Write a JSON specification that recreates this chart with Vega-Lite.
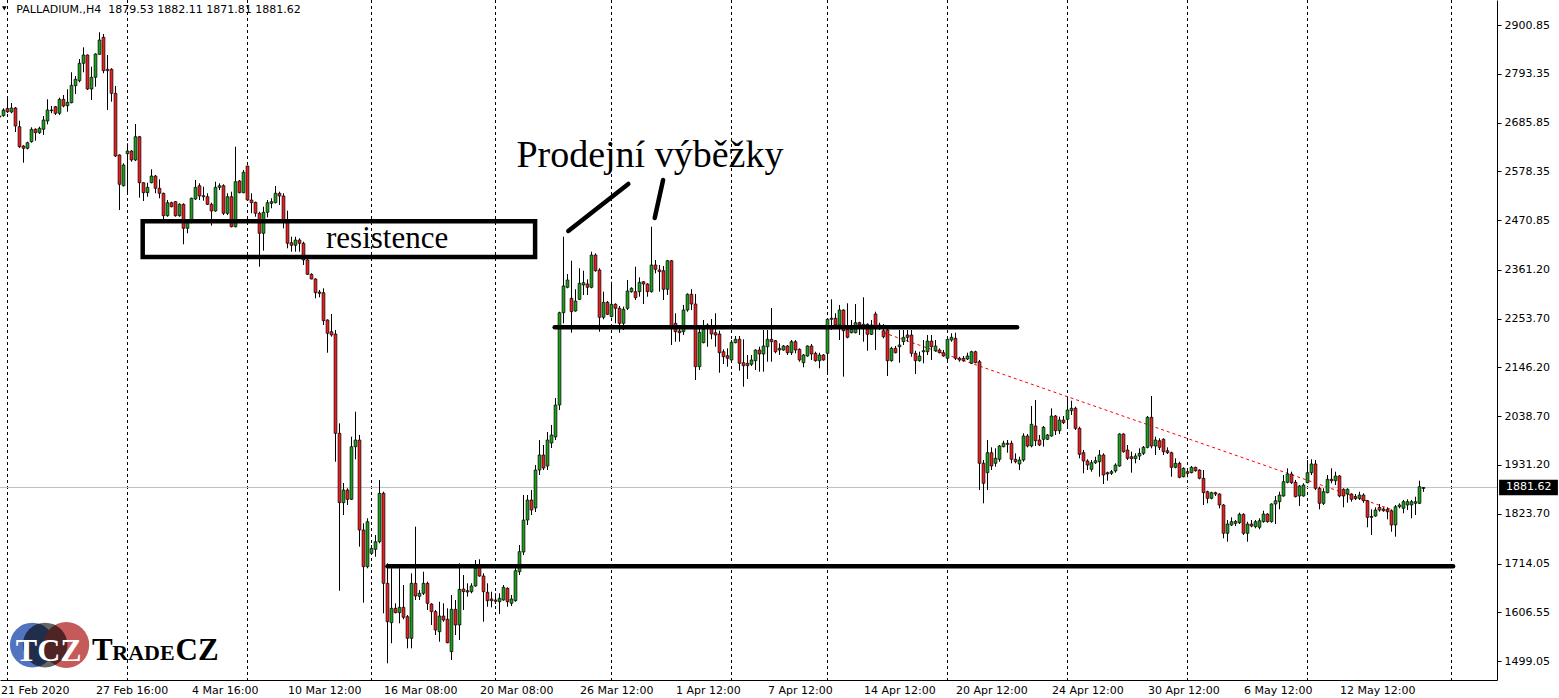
{
"$schema": "https://vega.github.io/schema/vega-lite/v6.json",
"width": 1497,
"height": 680,
"autosize": {"type": "none"},
"padding": {"left": 0, "top": 0, "right": 62, "bottom": 18},
"background": "white",
"config": {"view": {"stroke": null}, "font": "DejaVu Sans", "scale": {"continuousPadding": 0}, "axis": {"grid": false, "title": null, "domainColor": "black", "labelColor": "black", "labelFont": "DejaVu Sans", "labelFontSize": 11}},
"datasets": {
"c": [
{"i":0,"o":2700.3,"h":2707,"l":2691.5,"c":2698.1},
{"i":1,"o":2701,"h":2717.3,"l":2698.8,"c":2713.6},
{"i":2,"o":2717,"h":2737.8,"l":2707,"c":2709.8},
{"i":3,"o":2709.2,"h":2729,"l":2706.3,"c":2718},
{"i":4,"o":2718,"h":2720.2,"l":2665.1,"c":2678.3},
{"i":5,"o":2676.8,"h":2690,"l":2630,"c":2632.7},
{"i":6,"o":2634.2,"h":2636,"l":2597.4,"c":2629.1},
{"i":7,"o":2629.1,"h":2643.7,"l":2626.9,"c":2641.5},
{"i":8,"o":2643.7,"h":2675.4,"l":2641.5,"c":2671},
{"i":9,"o":2671,"h":2673.2,"l":2645.9,"c":2663.5},
{"i":10,"o":2663.5,"h":2676.8,"l":2661,"c":2673.2},
{"i":11,"o":2671,"h":2700.3,"l":2658.5,"c":2691.5},
{"i":12,"o":2689.3,"h":2737.1,"l":2682,"c":2713.6},
{"i":13,"o":2713.6,"h":2722.4,"l":2706.3,"c":2712},
{"i":14,"o":2720.8,"h":2722.4,"l":2702.5,"c":2706.3},
{"i":15,"o":2706.3,"h":2740.7,"l":2702.5,"c":2737.1},
{"i":16,"o":2737.1,"h":2746.6,"l":2719.5,"c":2722.4},
{"i":17,"o":2723,"h":2759.2,"l":2709.8,"c":2730.5},
{"i":18,"o":2729.7,"h":2796.7,"l":2728.3,"c":2768},
{"i":19,"o":2767.1,"h":2788.5,"l":2748.8,"c":2781.2},
{"i":20,"o":2778.1,"h":2826,"l":2774.6,"c":2816.5},
{"i":21,"o":2816.5,"h":2851.7,"l":2796.7,"c":2834.8},
{"i":22,"o":2834.8,"h":2836,"l":2757.6,"c":2759.8},
{"i":23,"o":2759.8,"h":2809,"l":2735.6,"c":2785.6},
{"i":24,"o":2785.6,"h":2838.5,"l":2764.9,"c":2837},
{"i":25,"o":2836.3,"h":2884.8,"l":2835.4,"c":2867.8},
{"i":26,"o":2873.8,"h":2881.1,"l":2794.4,"c":2800.2},
{"i":27,"o":2803.3,"h":2834.8,"l":2713.6,"c":2800.2},
{"i":28,"o":2803.3,"h":2805.5,"l":2731.9,"c":2750.4},
{"i":29,"o":2750.4,"h":2766.5,"l":2610,"c":2612.2},
{"i":30,"o":2614.4,"h":2615.9,"l":2493.2,"c":2549.8},
{"i":31,"o":2546.7,"h":2596.1,"l":2545,"c":2592.3},
{"i":32,"o":2617.3,"h":2640.2,"l":2530,"c":2623.2},
{"i":33,"o":2623.2,"h":2625,"l":2599.6,"c":2603.4},
{"i":34,"o":2603.4,"h":2682.7,"l":2601,"c":2654.7},
{"i":35,"o":2654.7,"h":2656.3,"l":2520.3,"c":2553.3},
{"i":36,"o":2553.3,"h":2554.2,"l":2513,"c":2531.3},
{"i":37,"o":2531.3,"h":2553.3,"l":2522.5,"c":2543.2},
{"i":38,"o":2553.3,"h":2582.9,"l":2552,"c":2568.1},
{"i":39,"o":2568.1,"h":2570.3,"l":2530,"c":2541},
{"i":40,"o":2541,"h":2560.8,"l":2519,"c":2530},
{"i":41,"o":2530,"h":2531.3,"l":2471.1,"c":2480.6},
{"i":42,"o":2480.6,"h":2515.2,"l":2478.4,"c":2509.3},
{"i":43,"o":2509.3,"h":2511.5,"l":2499.1,"c":2500.4},
{"i":44,"o":2511.5,"h":2513,"l":2478.4,"c":2480.6},
{"i":45,"o":2480.6,"h":2507.9,"l":2478.4,"c":2505.7},
{"i":46,"o":2505.7,"h":2507.9,"l":2417.6,"c":2452.8},
{"i":47,"o":2452.8,"h":2472.7,"l":2441.8,"c":2471.1},
{"i":48,"o":2471.1,"h":2520.3,"l":2463.9,"c":2519},
{"i":49,"o":2517.4,"h":2559.3,"l":2515.2,"c":2543.2},
{"i":50,"o":2546.7,"h":2552,"l":2515.2,"c":2524},
{"i":51,"o":2524.7,"h":2544.5,"l":2513.7,"c":2522.5},
{"i":52,"o":2522.5,"h":2530,"l":2504.2,"c":2505.7},
{"i":53,"o":2505.7,"h":2509.3,"l":2458.6,"c":2491},
{"i":54,"o":2491,"h":2555.5,"l":2489.4,"c":2543.2},
{"i":55,"o":2543.2,"h":2552,"l":2537.2,"c":2546.7},
{"i":56,"o":2546.7,"h":2549.8,"l":2482.1,"c":2485.9},
{"i":57,"o":2485.9,"h":2530,"l":2482.1,"c":2522.5},
{"i":58,"o":2522.5,"h":2533.5,"l":2455,"c":2456.3},
{"i":59,"o":2456.3,"h":2632.7,"l":2455,"c":2555.5},
{"i":60,"o":2557.1,"h":2559.3,"l":2530,"c":2531.3},
{"i":61,"o":2531.3,"h":2581.3,"l":2530,"c":2576.3},
{"i":62,"o":2590.1,"h":2590.8,"l":2513,"c":2515.2},
{"i":63,"o":2515.2,"h":2530,"l":2485.9,"c":2509.3},
{"i":64,"o":2510.1,"h":2511.5,"l":2478.4,"c":2485.9},
{"i":65,"o":2485.9,"h":2489.4,"l":2368.2,"c":2441.8},
{"i":66,"o":2441.8,"h":2500.4,"l":2403.5,"c":2488.1},
{"i":67,"o":2488.1,"h":2515.2,"l":2477,"c":2509.3},
{"i":68,"o":2507.9,"h":2519,"l":2497,"c":2511.5},
{"i":69,"o":2509.3,"h":2546,"l":2507.9,"c":2530},
{"i":70,"o":2530,"h":2533.5,"l":2504.2,"c":2524},
{"i":71,"o":2524,"h":2530,"l":2452.8,"c":2471.1},
{"i":72,"o":2471.1,"h":2491.6,"l":2408.7,"c":2419.8},
{"i":73,"o":2421.1,"h":2434.3,"l":2401.3,"c":2415.4},
{"i":74,"o":2415.4,"h":2434.3,"l":2401.3,"c":2427},
{"i":75,"o":2427,"h":2430.8,"l":2401.3,"c":2419.8},
{"i":76,"o":2419.8,"h":2423.3,"l":2372,"c":2383},
{"i":77,"o":2383,"h":2390.2,"l":2349.9,"c":2351.5},
{"i":78,"o":2351.5,"h":2353.6,"l":2340.4,"c":2341.1},
{"i":79,"o":2341.1,"h":2342.6,"l":2298.5,"c":2310.9},
{"i":80,"o":2312.4,"h":2316.8,"l":2300.7,"c":2309.5},
{"i":81,"o":2310.9,"h":2320.6,"l":2239.7,"c":2249.2},
{"i":82,"o":2250.7,"h":2252.3,"l":2178.6,"c":2221.4},
{"i":83,"o":2224.9,"h":2264,"l":2213.9,"c":2217.7},
{"i":84,"o":2219.9,"h":2228.7,"l":1938.4,"c":2001},
{"i":85,"o":2001,"h":2023,"l":1654.1,"c":1848.1},
{"i":86,"o":1848.1,"h":1891.5,"l":1820.9,"c":1876},
{"i":87,"o":1876,"h":1879.8,"l":1843,"c":1855.5},
{"i":88,"o":1855.5,"h":1993.5,"l":1854,"c":1971.5},
{"i":89,"o":1971.5,"h":2048.6,"l":1943.7,"c":1986.2},
{"i":90,"o":1986.2,"h":1997.3,"l":1751.1,"c":1787.9},
{"i":91,"o":1787.9,"h":1802.7,"l":1627.7,"c":1707},
{"i":92,"o":1707,"h":1813.7,"l":1703.5,"c":1806.2},
{"i":93,"o":1736.5,"h":1754.8,"l":1732.8,"c":1747.5},
{"i":94,"o":1745.3,"h":1776.9,"l":1729,"c":1762.1},
{"i":95,"o":1762.1,"h":1898.1,"l":1758.6,"c":1868.8},
{"i":96,"o":1868.8,"h":1872.3,"l":1604.3,"c":1670.4},
{"i":97,"o":1670.4,"h":1714.5,"l":1494.1,"c":1585.8},
{"i":98,"o":1583.6,"h":1703.5,"l":1538.2,"c":1615.3},
{"i":99,"o":1615.3,"h":1626.3,"l":1604.3,"c":1605.6},
{"i":100,"o":1605.6,"h":1703.5,"l":1582.3,"c":1617.5},
{"i":101,"o":1617.5,"h":1666.7,"l":1591.1,"c":1595.5},
{"i":102,"o":1596.8,"h":1600.5,"l":1527.1,"c":1549.2},
{"i":103,"o":1549.2,"h":1692.4,"l":1527.1,"c":1670.4},
{"i":104,"o":1670.4,"h":1795.2,"l":1633.6,"c":1642.4},
{"i":105,"o":1641.7,"h":1655.6,"l":1633.6,"c":1648.4},
{"i":106,"o":1648.4,"h":1696,"l":1644.6,"c":1670.4},
{"i":107,"o":1670.4,"h":1673.9,"l":1611.6,"c":1626.3},
{"i":108,"o":1624.8,"h":1626.3,"l":1578.5,"c":1607.9},
{"i":109,"o":1607.9,"h":1611.6,"l":1556.5,"c":1567.5},
{"i":110,"o":1563.7,"h":1629.8,"l":1541.7,"c":1598.3},
{"i":111,"o":1598.3,"h":1626.3,"l":1585.8,"c":1589.5},
{"i":112,"o":1591.1,"h":1615.3,"l":1538.2,"c":1539.5},
{"i":113,"o":1519.7,"h":1644.6,"l":1501.4,"c":1613.1},
{"i":114,"o":1613.1,"h":1633.6,"l":1556.5,"c":1578.5},
{"i":115,"o":1578.5,"h":1714.5,"l":1545.4,"c":1657.2},
{"i":116,"o":1657.8,"h":1688.7,"l":1611.6,"c":1651.9},
{"i":117,"o":1654.1,"h":1670.4,"l":1640.9,"c":1651.2},
{"i":118,"o":1651.9,"h":1670.4,"l":1648.4,"c":1664.5},
{"i":119,"o":1664.5,"h":1721.8,"l":1662.9,"c":1703.5},
{"i":120,"o":1707,"h":1723.3,"l":1684.9,"c":1686.5},
{"i":121,"o":1686.5,"h":1692.4,"l":1585.8,"c":1651.9},
{"i":122,"o":1650.6,"h":1670.4,"l":1618.8,"c":1632},
{"i":123,"o":1635.8,"h":1651.9,"l":1617.5,"c":1632},
{"i":124,"o":1633.6,"h":1648.4,"l":1624.8,"c":1630.8},
{"i":125,"o":1629.8,"h":1648.4,"l":1602.7,"c":1637.3},
{"i":126,"o":1633.6,"h":1666.7,"l":1632,"c":1661.6},
{"i":127,"o":1659.4,"h":1661.6,"l":1618.8,"c":1629.8},
{"i":128,"o":1626.3,"h":1644.6,"l":1620.4,"c":1635.8},
{"i":129,"o":1632,"h":1707,"l":1629.8,"c":1698.2},
{"i":130,"o":1696,"h":1754.8,"l":1688.7,"c":1740.1},
{"i":131,"o":1739.4,"h":1865,"l":1732.8,"c":1809.9},
{"i":132,"o":1809.9,"h":1865,"l":1798.9,"c":1854},
{"i":133,"o":1854,"h":1876,"l":1820.9,"c":1831.9},
{"i":134,"o":1836.4,"h":1931.1,"l":1827.6,"c":1920.1},
{"i":135,"o":1920.1,"h":1986.2,"l":1909.1,"c":1953.2},
{"i":136,"o":1953.2,"h":1975.2,"l":1920.1,"c":1924.5},
{"i":137,"o":1928.9,"h":2003.9,"l":1920.1,"c":1986.2},
{"i":138,"o":1979.6,"h":2019.3,"l":1968.6,"c":1997.3},
{"i":139,"o":1992.9,"h":2078.8,"l":1986.2,"c":2063.4},
{"i":140,"o":2063.4,"h":2269,"l":2052.4,"c":2266.8},
{"i":141,"o":2266.8,"h":2434.3,"l":2243.4,"c":2325.7},
{"i":142,"o":2322.8,"h":2352.1,"l":2320.6,"c":2338.9},
{"i":143,"o":2298.5,"h":2381.4,"l":2222.7,"c":2269},
{"i":144,"o":2270.6,"h":2318.4,"l":2269,"c":2292.6},
{"i":145,"o":2296.3,"h":2364.7,"l":2294.8,"c":2331.6},
{"i":146,"o":2327.9,"h":2359.4,"l":2305.8,"c":2332.9},
{"i":147,"o":2330.1,"h":2340.4,"l":2305.8,"c":2322.8},
{"i":148,"o":2322.8,"h":2401.3,"l":2320.6,"c":2394},
{"i":149,"o":2394,"h":2397.7,"l":2357.2,"c":2359.4},
{"i":150,"o":2360.9,"h":2364.7,"l":2224.9,"c":2256.7},
{"i":151,"o":2256.7,"h":2313.1,"l":2252.3,"c":2289.7},
{"i":152,"o":2289.7,"h":2292.6,"l":2261.7,"c":2263.3},
{"i":153,"o":2258,"h":2335.1,"l":2256.7,"c":2285.3},
{"i":154,"o":2285.3,"h":2287.5,"l":2243.4,"c":2276.5},
{"i":155,"o":2276.5,"h":2281.6,"l":2222.7,"c":2243.4},
{"i":156,"o":2243.4,"h":2280.2,"l":2228.7,"c":2274.3},
{"i":157,"o":2276.5,"h":2338.9,"l":2272.8,"c":2314.6},
{"i":158,"o":2313.1,"h":2322.8,"l":2310.9,"c":2320.6},
{"i":159,"o":2313.1,"h":2368.2,"l":2294.8,"c":2299.9},
{"i":160,"o":2313.1,"h":2344.8,"l":2302.1,"c":2333.8},
{"i":161,"o":2335.1,"h":2336.7,"l":2286,"c":2330.1},
{"i":162,"o":2330.1,"h":2331.6,"l":2302.1,"c":2313.1},
{"i":163,"o":2313.1,"h":2456.3,"l":2311,"c":2372},
{"i":164,"o":2372,"h":2383,"l":2353.6,"c":2362.4},
{"i":165,"o":2360.9,"h":2372,"l":2313.1,"c":2357.2},
{"i":166,"o":2359.4,"h":2369.7,"l":2294.8,"c":2318.4},
{"i":167,"o":2318.4,"h":2383,"l":2305.8,"c":2381.4},
{"i":168,"o":2381.4,"h":2383,"l":2195.6,"c":2232.4},
{"i":169,"o":2243.4,"h":2265.5,"l":2202.9,"c":2224.9},
{"i":170,"o":2226.5,"h":2239.7,"l":2202.9,"c":2222.7},
{"i":171,"o":2224.9,"h":2283.8,"l":2217.7,"c":2272.8},
{"i":172,"o":2272.8,"h":2309.5,"l":2269,"c":2307.4},
{"i":173,"o":2307.4,"h":2318.4,"l":2272.8,"c":2286},
{"i":174,"o":2286,"h":2308,"l":2118.5,"c":2147.8},
{"i":175,"o":2147.8,"h":2236,"l":2140.5,"c":2223.6},
{"i":176,"o":2200.7,"h":2250.7,"l":2199.4,"c":2230.2},
{"i":177,"o":2234.6,"h":2243.4,"l":2191.8,"c":2239.7},
{"i":178,"o":2232.4,"h":2252.9,"l":2208.2,"c":2219.9},
{"i":179,"o":2222.7,"h":2265.5,"l":2191.8,"c":2217.7},
{"i":180,"o":2219.9,"h":2227.1,"l":2134.6,"c":2178.6},
{"i":181,"o":2180.8,"h":2186.1,"l":2153.7,"c":2169.8},
{"i":182,"o":2172,"h":2188.3,"l":2147.8,"c":2166.3},
{"i":183,"o":2162.6,"h":2206.6,"l":2158.8,"c":2201.6},
{"i":184,"o":2200.7,"h":2215.5,"l":2199.4,"c":2208.2},
{"i":185,"o":2208.2,"h":2215.5,"l":2139,"c":2155.3},
{"i":186,"o":2156.6,"h":2208.2,"l":2103.7,"c":2150},
{"i":187,"o":2155.3,"h":2173.6,"l":2120.7,"c":2150},
{"i":188,"o":2153.1,"h":2173.6,"l":2149.3,"c":2162.6},
{"i":189,"o":2161,"h":2186.1,"l":2140.5,"c":2184.6},
{"i":190,"o":2184.6,"h":2191.8,"l":2136.8,"c":2175.8},
{"i":191,"o":2175.8,"h":2228.7,"l":2136.8,"c":2193.4},
{"i":192,"o":2191.8,"h":2228.7,"l":2158.8,"c":2208.2},
{"i":193,"o":2208.2,"h":2277.2,"l":2158.8,"c":2202.9},
{"i":194,"o":2205.1,"h":2206.6,"l":2177.3,"c":2180.8},
{"i":195,"o":2188.3,"h":2199.4,"l":2173.6,"c":2184.6},
{"i":196,"o":2184.6,"h":2195.6,"l":2183,"c":2193.4},
{"i":197,"o":2193.4,"h":2195.6,"l":2173.6,"c":2178.6},
{"i":198,"o":2178.6,"h":2206.6,"l":2173.6,"c":2202.9},
{"i":199,"o":2202.9,"h":2206.6,"l":2177.3,"c":2184.6},
{"i":200,"o":2186.1,"h":2188.3,"l":2158.8,"c":2162.6},
{"i":201,"o":2156.6,"h":2175.8,"l":2146.5,"c":2173.6},
{"i":202,"o":2171.4,"h":2194.9,"l":2169.8,"c":2193.4},
{"i":203,"o":2193.4,"h":2197.8,"l":2162.6,"c":2175.8},
{"i":204,"o":2177.3,"h":2180.8,"l":2158.8,"c":2161},
{"i":205,"o":2161,"h":2178.6,"l":2144.3,"c":2173.6},
{"i":206,"o":2173.6,"h":2175.8,"l":2161,"c":2162.6},
{"i":207,"o":2177.3,"h":2254.5,"l":2133.2,"c":2252.3},
{"i":208,"o":2252.3,"h":2296.3,"l":2228.7,"c":2254.5},
{"i":209,"o":2254.5,"h":2265.5,"l":2232.4,"c":2239.7},
{"i":210,"o":2239.7,"h":2283.8,"l":2206.6,"c":2272.8},
{"i":211,"o":2272.8,"h":2274.3,"l":2125.8,"c":2227.1},
{"i":212,"o":2230.2,"h":2287.5,"l":2210.4,"c":2212.6},
{"i":213,"o":2222.7,"h":2250.7,"l":2221.4,"c":2230.2},
{"i":214,"o":2222.7,"h":2286,"l":2221.4,"c":2244.8},
{"i":215,"o":2244.8,"h":2246.9,"l":2217.7,"c":2239.7},
{"i":216,"o":2241.2,"h":2300.7,"l":2202.9,"c":2237.5},
{"i":217,"o":2241.2,"h":2243.4,"l":2183,"c":2219.2},
{"i":218,"o":2219.2,"h":2250.7,"l":2217.7,"c":2239.7},
{"i":219,"o":2264,"h":2269,"l":2184.6,"c":2238.2},
{"i":220,"o":2239.7,"h":2244.8,"l":2228.7,"c":2236},
{"i":221,"o":2227.1,"h":2241.9,"l":2210.4,"c":2213.9},
{"i":222,"o":2228.7,"h":2232.4,"l":2127.3,"c":2161},
{"i":223,"o":2161,"h":2191.8,"l":2158.8,"c":2188.3},
{"i":224,"o":2188.3,"h":2193.4,"l":2177.3,"c":2178.6},
{"i":225,"o":2191.8,"h":2228.7,"l":2156.6,"c":2195.6},
{"i":226,"o":2202.9,"h":2228.7,"l":2195.6,"c":2212.6},
{"i":227,"o":2217.7,"h":2228.7,"l":2202.9,"c":2212.6},
{"i":228,"o":2217.7,"h":2228.7,"l":2169.8,"c":2177.3},
{"i":229,"o":2177.3,"h":2183,"l":2131.7,"c":2161},
{"i":230,"o":2161,"h":2180.8,"l":2158.8,"c":2171.4},
{"i":231,"o":2180.8,"h":2206.6,"l":2155.3,"c":2183},
{"i":232,"o":2180.8,"h":2217.7,"l":2173.6,"c":2204.4},
{"i":233,"o":2204.4,"h":2217.7,"l":2162.6,"c":2191.8},
{"i":234,"o":2183,"h":2206.6,"l":2180.8,"c":2193.4},
{"i":235,"o":2184.6,"h":2188.3,"l":2177.3,"c":2178.6},
{"i":236,"o":2178.6,"h":2184.6,"l":2169.8,"c":2171.4},
{"i":237,"o":2166.3,"h":2215.5,"l":2162.6,"c":2208.2},
{"i":238,"o":2206.6,"h":2221.4,"l":2202.9,"c":2212.6},
{"i":239,"o":2210.4,"h":2222.7,"l":2162.6,"c":2166.3},
{"i":240,"o":2166.3,"h":2169.8,"l":2158.8,"c":2162.6},
{"i":241,"o":2166.3,"h":2171.4,"l":2158.8,"c":2161},
{"i":242,"o":2164.8,"h":2178.6,"l":2162.6,"c":2171.4},
{"i":243,"o":2155.3,"h":2183,"l":2153.7,"c":2180.8},
{"i":244,"o":2180.8,"h":2183,"l":2155.3,"c":2156.6},
{"i":245,"o":2158.8,"h":2162.6,"l":1876,"c":1934.9},
{"i":246,"o":1934.9,"h":1942.2,"l":1846.7,"c":1890.8},
{"i":247,"o":1914.2,"h":1986.2,"l":1876,"c":1958.3},
{"i":248,"o":1958.3,"h":1970.1,"l":1920.1,"c":1928.9},
{"i":249,"o":1934.9,"h":1967.9,"l":1927.4,"c":1945.9},
{"i":250,"o":1943.7,"h":1975.2,"l":1938.4,"c":1973},
{"i":251,"o":1971.5,"h":1984.7,"l":1970.1,"c":1979},
{"i":252,"o":1979,"h":1986.2,"l":1958.3,"c":1976.7},
{"i":253,"o":1979,"h":1984.7,"l":1934.9,"c":1943.7},
{"i":254,"o":1943.7,"h":1956.9,"l":1934.9,"c":1938.4},
{"i":255,"o":1933.4,"h":1949.4,"l":1920.1,"c":1942.2},
{"i":256,"o":1942.2,"h":2001,"l":1938.4,"c":1995.1},
{"i":257,"o":1995.1,"h":1999.5,"l":1970.1,"c":1973},
{"i":258,"o":1973,"h":2061.2,"l":1970.1,"c":2020.9},
{"i":259,"o":2017.1,"h":2074.4,"l":1973,"c":1984.7},
{"i":260,"o":1986.2,"h":1997.3,"l":1973,"c":1975.2},
{"i":261,"o":1987.8,"h":2017.1,"l":1971.5,"c":2014.2},
{"i":262,"o":1987.8,"h":1999.5,"l":1986.2,"c":1997.3},
{"i":263,"o":1995.1,"h":2056.1,"l":1993.5,"c":2039.1},
{"i":264,"o":2039.1,"h":2041.3,"l":1997.3,"c":2006.7},
{"i":265,"o":2006.7,"h":2037.6,"l":1999.5,"c":2030.3},
{"i":266,"o":2030.3,"h":2039.1,"l":2021.5,"c":2024.4},
{"i":267,"o":2031.9,"h":2080.3,"l":2015.6,"c":2052.3},
{"i":268,"o":2050.9,"h":2072.8,"l":2041.3,"c":2056.1},
{"i":269,"o":2056.1,"h":2059.6,"l":2008.3,"c":2012},
{"i":270,"o":2012,"h":2015.6,"l":1945.9,"c":1954.7},
{"i":271,"o":1958.3,"h":1964.2,"l":1912.8,"c":1940},
{"i":272,"o":1940,"h":1943.7,"l":1920.1,"c":1931.1},
{"i":273,"o":1921.6,"h":1942.2,"l":1916.4,"c":1936.2},
{"i":274,"o":1936.2,"h":1949.4,"l":1933.4,"c":1940.6},
{"i":275,"o":1938.4,"h":1964.2,"l":1905.3,"c":1953.2},
{"i":276,"o":1953.2,"h":1956.9,"l":1889.3,"c":1909.1},
{"i":277,"o":1914.2,"h":1916.4,"l":1896.5,"c":1911.3},
{"i":278,"o":1912.8,"h":1920.1,"l":1909.1,"c":1916.4},
{"i":279,"o":1917.9,"h":1934.9,"l":1914.2,"c":1931.1},
{"i":280,"o":1928.9,"h":2001,"l":1927.4,"c":1999.5},
{"i":281,"o":1999.5,"h":2001,"l":1958.3,"c":1960.5},
{"i":282,"o":1964.2,"h":1975.2,"l":1942.2,"c":1945.9},
{"i":283,"o":1949.4,"h":1960.5,"l":1914.2,"c":1945},
{"i":284,"o":1945,"h":1956.9,"l":1934.9,"c":1950.9},
{"i":285,"o":1950.9,"h":1967.9,"l":1942.2,"c":1956.9},
{"i":286,"o":1956.9,"h":1973,"l":1953.2,"c":1970.1},
{"i":287,"o":1970.1,"h":2039.1,"l":1967.9,"c":2036.3},
{"i":288,"o":2036.3,"h":2083.2,"l":1967.9,"c":1973},
{"i":289,"o":1973,"h":1993.5,"l":1953.2,"c":1986.2},
{"i":290,"o":1984.7,"h":1990,"l":1964.2,"c":1970.1},
{"i":291,"o":1987.8,"h":1990,"l":1953.2,"c":1960.5},
{"i":292,"o":1962.7,"h":1970.1,"l":1955.4,"c":1958.3},
{"i":293,"o":1958.3,"h":1960.5,"l":1905.3,"c":1926},
{"i":294,"o":1926,"h":1945.9,"l":1923.8,"c":1934.9},
{"i":295,"o":1934.9,"h":1938.4,"l":1902,"c":1904},
{"i":296,"o":1905.3,"h":1926,"l":1904,"c":1923.8},
{"i":297,"o":1916.4,"h":1923.8,"l":1904,"c":1912.8},
{"i":298,"o":1914.2,"h":1928.9,"l":1912.8,"c":1926},
{"i":299,"o":1926,"h":1927.4,"l":1916.4,"c":1918.6},
{"i":300,"o":1920.1,"h":1921.6,"l":1899.6,"c":1901.8},
{"i":301,"o":1901.8,"h":1920.1,"l":1843,"c":1870.1},
{"i":302,"o":1872.3,"h":1874.5,"l":1846.7,"c":1857.7},
{"i":303,"o":1857.7,"h":1872.3,"l":1855.5,"c":1870.1},
{"i":304,"o":1870.1,"h":1872.3,"l":1862.8,"c":1867.2},
{"i":305,"o":1867.2,"h":1868.8,"l":1835.7,"c":1843},
{"i":306,"o":1843,"h":1845.2,"l":1769.6,"c":1780.6},
{"i":307,"o":1780.6,"h":1809.9,"l":1762.1,"c":1801.1},
{"i":308,"o":1798.9,"h":1815.8,"l":1796.7,"c":1806.2},
{"i":309,"o":1802.6,"h":1809.9,"l":1796.7,"c":1806.8},
{"i":310,"o":1804,"h":1826,"l":1801.1,"c":1822.5},
{"i":311,"o":1822.5,"h":1824.7,"l":1776.9,"c":1780.6},
{"i":312,"o":1780.6,"h":1806.2,"l":1762.1,"c":1801.1},
{"i":313,"o":1801.1,"h":1809.9,"l":1793.9,"c":1796.7},
{"i":314,"o":1795.2,"h":1809.9,"l":1791.7,"c":1806.2},
{"i":315,"o":1793.9,"h":1813.7,"l":1789.5,"c":1808.4},
{"i":316,"o":1806.2,"h":1830.4,"l":1804,"c":1823.1},
{"i":317,"o":1823.1,"h":1824.7,"l":1804,"c":1806.2},
{"i":318,"o":1806.2,"h":1846.7,"l":1804,"c":1845.2},
{"i":319,"o":1845.2,"h":1862.8,"l":1801.1,"c":1852.4},
{"i":320,"o":1850.2,"h":1872.3,"l":1833.5,"c":1865},
{"i":321,"o":1862.8,"h":1909.1,"l":1861.3,"c":1894.3},
{"i":322,"o":1893,"h":1923.8,"l":1890.8,"c":1911.3},
{"i":323,"o":1911.3,"h":1916.4,"l":1889.3,"c":1892.2},
{"i":324,"o":1893,"h":1898.1,"l":1859.9,"c":1861.3},
{"i":325,"o":1862.8,"h":1887.1,"l":1840.8,"c":1884.9},
{"i":326,"o":1862.8,"h":1890.8,"l":1861.3,"c":1887.1},
{"i":327,"o":1892.2,"h":1942.2,"l":1890.8,"c":1914.2},
{"i":328,"o":1914.2,"h":1943.7,"l":1909.1,"c":1933.4},
{"i":329,"o":1933.4,"h":1942.2,"l":1876,"c":1879.8},
{"i":330,"o":1879.8,"h":1883.3,"l":1833.5,"c":1846.7},
{"i":331,"o":1846.7,"h":1879.8,"l":1843,"c":1872.3},
{"i":332,"o":1870.1,"h":1909.1,"l":1868.8,"c":1899.6},
{"i":333,"o":1899.6,"h":1923.8,"l":1890.8,"c":1896.5},
{"i":334,"o":1896.5,"h":1916.4,"l":1887.1,"c":1906.9},
{"i":335,"o":1906.9,"h":1909.1,"l":1859.9,"c":1862.8},
{"i":336,"o":1877.6,"h":1879.8,"l":1837.9,"c":1862.8},
{"i":337,"o":1867.2,"h":1879.8,"l":1848.1,"c":1877.6},
{"i":338,"o":1867.2,"h":1868.8,"l":1850.3,"c":1855.5},
{"i":339,"o":1861.3,"h":1867.2,"l":1854,"c":1856.9},
{"i":340,"o":1857.7,"h":1872.3,"l":1854,"c":1865},
{"i":341,"o":1865,"h":1868.8,"l":1848.1,"c":1852.4},
{"i":342,"o":1852.4,"h":1854,"l":1793.9,"c":1815.8},
{"i":343,"o":1817.9,"h":1833.5,"l":1776.9,"c":1815.8},
{"i":344,"o":1818.7,"h":1837.9,"l":1817.2,"c":1831.9},
{"i":345,"o":1837.9,"h":1845.2,"l":1828.2,"c":1831.9},
{"i":346,"o":1834.1,"h":1837.9,"l":1828.2,"c":1830.4},
{"i":347,"o":1833.5,"h":1837.9,"l":1811.4,"c":1828.2},
{"i":348,"o":1830.4,"h":1833.5,"l":1784.1,"c":1798.9},
{"i":349,"o":1798.9,"h":1843,"l":1773.1,"c":1839.2},
{"i":350,"o":1839.2,"h":1846.7,"l":1835.7,"c":1843},
{"i":351,"o":1835.7,"h":1854,"l":1824.7,"c":1850.3},
{"i":352,"o":1843,"h":1855.5,"l":1831.9,"c":1850.3},
{"i":353,"o":1843,"h":1854,"l":1813.7,"c":1850.3},
{"i":354,"o":1846.7,"h":1861.3,"l":1820.9,"c":1850.3},
{"i":355,"o":1846.7,"h":1896.5,"l":1845.2,"c":1883.3},
{"i":356,"o":1879.53,"h":1882.11,"l":1871.81,"c":1881.62}
],
"grid": [{"i":2},{"i":32},{"i":62},{"i":93},{"i":124},{"i":153},{"i":183},{"i":207},{"i":237},{"i":267},{"i":297},{"i":327},{"i":363}],
"segs": [
{"a":142.2,"p":2446.9,"b":157.2,"q":2550.5},
{"a":163.8,"p":2475.5,"b":165.9,"q":2559.3},
{"a":138.8,"p":2234.9,"b":254.4,"q":2234.9},
{"a":97,"p":1707.9,"b":363.4,"q":1707.9}
]
},
"layer": [
{
"data": {"name": "grid"},
"mark": {"type": "rule", "stroke": "black", "strokeDash": [3, 3], "strokeWidth": 1},
"encoding": {
"x": {"field": "i", "type": "quantitative", "scale": {"domain": [0.125, 374.375], "nice": false, "zero": false, "padding": 0},
"axis": {"orient": "bottom", "title": null, "grid": false, "ticks": false, "domain": true, "domainColor": "black", "domainWidth": 1,
"values": [0.25, 24, 48, 72, 96, 120, 145, 169, 192, 216, 239, 263, 287, 311, 335],
"labelExpr": "['21 Feb 2020','27 Feb 16:00','4 Mar 16:00','10 Mar 12:00','16 Mar 08:00','20 Mar 08:00','26 Mar 12:00','1 Apr 12:00','7 Apr 12:00','14 Apr 12:00','20 Apr 12:00','24 Apr 12:00','30 Apr 12:00','6 May 12:00','12 May 12:00'][indexof([0.25,24,48,72,96,120,145,169,192,216,239,263,287,311,335], datum.value)]",
"labelAlign": "left", "labelBaseline": "top", "labelPadding": 4, "labelFont": "DejaVu Sans", "labelFontSize": 11, "labelColor": "black", "labelFlush": false, "labelOverlap": false, "labelBound": false}}
}
},
{
"data": {"values": [{"p": 1881.62}]},
"mark": {"type": "rule", "stroke": "#c0c0c0", "strokeWidth": 1},
"encoding": {
"y": {"field": "p", "type": "quantitative", "scale": {"domain": [1457.3, 2956], "nice": false, "zero": false, "padding": 0},
"axis": {"orient": "right", "title": null, "grid": false, "ticks": true, "tickSize": 4, "tickColor": "black", "tickWidth": 1, "domain": true, "domainColor": "black", "domainWidth": 1,
"values": [1499.05, 1606.55, 1714.05, 1823.70, 1931.20, 2038.70, 2146.20, 2253.70, 2361.20, 2470.85, 2578.35, 2685.85, 2793.35, 2900.85],
"format": ".2f", "labelPadding": 3, "labelFont": "DejaVu Sans", "labelFontSize": 11, "labelColor": "black", "labelOverlap": false, "labelFlush": false, "labelBound": false}}
}
},
{
"data": {"values": [{"a": 221, "p": 2222.8, "b": 347.7, "q": 1834}]},
"mark": {"type": "rule", "stroke": "#ff0000", "strokeWidth": 1, "strokeDash": [3, 3]},
"encoding": {
"x": {"field": "a", "type": "quantitative"},
"y": {"field": "p", "type": "quantitative"},
"x2": {"field": "b"},
"y2": {"field": "q"}
}
},
{
"data": {"name": "c"},
"mark": {"type": "rule", "stroke": "black", "strokeWidth": 1},
"encoding": {
"x": {"field": "i", "type": "quantitative"},
"y": {"field": "l", "type": "quantitative"},
"y2": {"field": "h"}
}
},
{
"data": {"name": "c"},
"mark": {"type": "bar", "size": 2.8, "stroke": "black", "strokeWidth": 0.7},
"encoding": {
"x": {"field": "i", "type": "quantitative"},
"y": {"field": "o", "type": "quantitative"},
"y2": {"field": "c"},
"fill": {"condition": {"test": "datum.c >= datum.o", "value": "#18a018"}, "value": "#f01c1c"}
}
},
{
"data": {"values": [{"a": 35.8, "p": 2468.3, "b": 133.9, "q": 2389.6}]},
"mark": {"type": "rect", "fill": null, "fillOpacity": 0, "stroke": "black", "strokeWidth": 4.5},
"encoding": {
"x": {"field": "a", "type": "quantitative"},
"y": {"field": "p", "type": "quantitative"},
"x2": {"field": "b"},
"y2": {"field": "q"}
}
},
{
"data": {"name": "segs"},
"mark": {"type": "rule", "stroke": "black", "strokeWidth": 4.5, "strokeCap": "round"},
"encoding": {
"x": {"field": "a", "type": "quantitative"},
"y": {"field": "p", "type": "quantitative"},
"x2": {"field": "b"},
"y2": {"field": "q"}
}
},
{
"data": {"values": [{"i": 96.9, "p": 2408.7, "t": "resistence"}]},
"mark": {"type": "text", "font": "Liberation Serif", "fontSize": 31, "align": "center", "baseline": "alphabetic", "color": "black"},
"encoding": {
"x": {"field": "i", "type": "quantitative"},
"y": {"field": "p", "type": "quantitative"},
"text": {"field": "t"}
}
},
{
"data": {"values": [{"i": 162.6, "p": 2587.9, "t": "Prodejní výběžky"}]},
"mark": {"type": "text", "font": "Liberation Serif", "fontSize": 38, "align": "center", "baseline": "alphabetic", "color": "black"},
"encoding": {
"x": {"field": "i", "type": "quantitative"},
"y": {"field": "p", "type": "quantitative"},
"text": {"field": "t"}
}
},
{
"data": {"values": [{"i": 1.2, "p": 2937.6}]},
"mark": {"type": "point", "shape": "triangle-down", "size": 22, "filled": true, "color": "black", "opacity": 1},
"encoding": {
"x": {"field": "i", "type": "quantitative"},
"y": {"field": "p", "type": "quantitative"}
}
},
{
"data": {"values": [{"i": 4.2, "p": 2934, "t": "PALLADIUM.,H4\u00a0\u00a01879.53 1882.11 1871.81 1881.62"}]},
"mark": {"type": "text", "font": "DejaVu Sans", "fontSize": 11, "align": "left", "baseline": "middle", "color": "black"},
"encoding": {
"x": {"field": "i", "type": "quantitative"},
"y": {"field": "p", "type": "quantitative"},
"text": {"field": "t"}
}
},
{
"data": {"values": [{"i": 8.2, "p": 1534.4}]},
"mark": {"type": "point", "shape": "circle", "size": 2000, "filled": true, "color": "#5273bf", "opacity": 1},
"encoding": {
"x": {"field": "i", "type": "quantitative"},
"y": {"field": "p", "type": "quantitative"}
}
},
{
"data": {"values": [{"i": 16.7, "p": 1534.4}]},
"mark": {"type": "point", "shape": "circle", "size": 2100, "filled": true, "color": "#c45a5a", "opacity": 1},
"encoding": {
"x": {"field": "i", "type": "quantitative"},
"y": {"field": "p", "type": "quantitative"}
}
},
{
"data": {"values": [{"i": 11.4, "p": 1534.4}]},
"mark": {"type": "point", "shape": "circle", "size": 2000, "filled": true, "color": "#000000", "opacity": 0.6},
"encoding": {
"x": {"field": "i", "type": "quantitative"},
"y": {"field": "p", "type": "quantitative"}
}
},
{
"data": {"values": [{"i": 12.3, "p": 1499.2, "t": "TCZ"}]},
"mark": {"type": "text", "font": "Liberation Serif", "fontSize": 32, "fontWeight": "bold", "align": "center", "baseline": "alphabetic", "color": "white"},
"encoding": {
"x": {"field": "i", "type": "quantitative"},
"y": {"field": "p", "type": "quantitative"},
"text": {"field": "t"}
}
},
{
"data": {"values": [{"i": 23.1, "p": 1501.3, "t": "T"}, {"i": 44, "p": 1501.3, "t": "CZ"}]},
"mark": {"type": "text", "font": "Liberation Serif", "fontSize": 31, "fontWeight": "bold", "align": "left", "baseline": "alphabetic", "color": "black"},
"encoding": {
"x": {"field": "i", "type": "quantitative"},
"y": {"field": "p", "type": "quantitative"},
"text": {"field": "t"}
}
},
{
"data": {"values": [{"i": 28.2, "p": 1501.3, "t": "RADE"}]},
"mark": {"type": "text", "font": "Liberation Serif", "fontSize": 22, "fontWeight": "bold", "align": "left", "baseline": "alphabetic", "color": "black"},
"encoding": {
"x": {"field": "i", "type": "quantitative"},
"y": {"field": "p", "type": "quantitative"},
"text": {"field": "t"}
}
},
{
"data": {"values": [{"a": 374.9, "p": 1898.5, "b": 389.6, "q": 1864.5}]},
"mark": {"type": "rect", "fill": "black"},
"encoding": {
"x": {"field": "a", "type": "quantitative"},
"y": {"field": "p", "type": "quantitative"},
"x2": {"field": "b"},
"y2": {"field": "q"}
}
},
{
"data": {"values": [{"i": 382.3, "p": 1881.62, "t": "1881.62"}]},
"mark": {"type": "text", "font": "DejaVu Sans", "fontSize": 11, "align": "center", "baseline": "middle", "color": "white"},
"encoding": {
"x": {"field": "i", "type": "quantitative"},
"y": {"field": "p", "type": "quantitative"},
"text": {"field": "t"}
}
}
]
}
